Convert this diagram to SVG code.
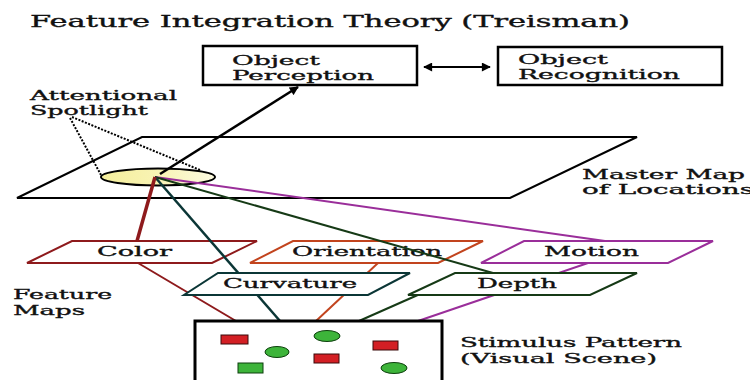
<svg xmlns="http://www.w3.org/2000/svg" width="750" height="380" viewBox="0 0 750 380">
  <defs>
    <marker id="head" viewBox="0 0 10 10" refX="9" refY="5" markerWidth="11" markerHeight="9" markerUnits="userSpaceOnUse" orient="auto-start-reverse">
      <path d="M0,0 L10,5 L0,10 z" fill="#000"/>
    </marker>
    <linearGradient id="spotFill" x1="0" y1="0" x2="1" y2="0">
      <stop offset="0" stop-color="#f5ef9c"/>
      <stop offset="0.5" stop-color="#f8f3b4"/>
      <stop offset="1" stop-color="#fcfae0"/>
    </linearGradient>
  </defs>
  <style>
    text { font-family: "DejaVu Serif", "Liberation Serif", serif; font-size: 13.5px; fill: #111; stroke: #111; stroke-width: 0.35px; }
    .title { font-size: 16px; }
    .box { fill: #fff; stroke: #000; stroke-width: 2.5; }
    .map { fill: #fff; stroke: #000; stroke-width: 2; }
    .fmap { fill: #fff; stroke-width: 2; }
    .link { fill: none; }
    .red { stroke: #8e1a1c; }
    .orange { stroke: #c2441e; }
    .purple { stroke: #9a2e9a; }
    .teal { stroke: #0b3636; }
    .green { stroke: #163a16; }
    .shape-red { fill: #d31f24; stroke: #3a0a0a; stroke-width: 1; }
    .shape-green { fill: #3db43a; stroke: #0d3f0d; stroke-width: 1; }
  </style>

  <rect width="750" height="380" fill="#fff"/>

  <!-- heading -->
  <text class="title" x="30" y="27" textLength="600" lengthAdjust="spacingAndGlyphs">Feature Integration Theory (Treisman)</text>

  <!-- master map of locations -->
  <g id="master-map">
    <polygon class="map" points="142,137 637,137 510,198 17,198"/>
    <text x="582" y="179" textLength="163" lengthAdjust="spacingAndGlyphs">Master Map</text>
    <text x="582" y="194" textLength="172" lengthAdjust="spacingAndGlyphs">of Locations</text>
  </g>

  <!-- attentional spotlight -->
  <g id="spotlight">
    <ellipse cx="158" cy="177" rx="57" ry="8.5" fill="url(#spotFill)" stroke="#000" stroke-width="2"/>
    <text x="30" y="100" textLength="147" lengthAdjust="spacingAndGlyphs">Attentional</text>
    <text x="30" y="115" textLength="118" lengthAdjust="spacingAndGlyphs">Spotlight</text>
  </g>

  <!-- upper row of feature maps -->
  <g id="map-color">
    <polygon class="fmap red" points="72,241 257,241 212,263 27,263"/>
    <text x="97" y="256" textLength="75" lengthAdjust="spacingAndGlyphs">Color</text>
  </g>
  <g id="map-orientation">
    <polygon class="fmap orange" points="293,241 483,241 438,263 250,263"/>
    <text x="292" y="256" textLength="150" lengthAdjust="spacingAndGlyphs">Orientation</text>
  </g>
  <g id="map-motion">
    <polygon class="fmap purple" points="524,241 713,241 668,263 481,263"/>
    <text x="544" y="256" textLength="95" lengthAdjust="spacingAndGlyphs">Motion</text>
  </g>

  <!-- connectors -->
  <g id="connectors">
    <!-- spotlight beam -->
    <line x1="70" y1="118" x2="101" y2="175" stroke="#000" stroke-width="2" stroke-dasharray="2,1.5"/>
    <line x1="72" y1="117" x2="200" y2="170" stroke="#000" stroke-width="2" stroke-dasharray="2,1.5"/>
    <!-- spotlight to feature maps -->
    <line class="link purple" x1="155" y1="177" x2="605" y2="241" stroke-width="2"/>
    <line class="link green" x1="155" y1="177" x2="500" y2="275" stroke-width="2"/>
    <line class="link teal" x1="155" y1="177" x2="280" y2="321" stroke-width="2.5"/>
    <line class="link red" x1="155" y1="177" x2="137" y2="241" stroke-width="3.5"/>
    <!-- feature maps to stimulus -->
    <line class="link red" x1="138" y1="263" x2="236" y2="321" stroke-width="2"/>
    <line class="link orange" x1="378" y1="263" x2="316" y2="321" stroke-width="2"/>
    <line class="link purple" x1="588" y1="263" x2="418" y2="321" stroke-width="2"/>
    <line class="link green" x1="420" y1="294" x2="359" y2="321" stroke-width="2"/>
    <!-- spotlight to object perception -->
    <line x1="160" y1="174" x2="298" y2="87" stroke="#000" stroke-width="2.5" marker-end="url(#head)"/>
    <!-- perception / recognition -->
    <line x1="424" y1="67" x2="490" y2="67" stroke="#000" stroke-width="2" marker-start="url(#head)" marker-end="url(#head)"/>
  </g>

  <!-- lower row of feature maps -->
  <g id="map-curvature">
    <polygon class="fmap teal" points="218,273 410,273 368,295 184,295"/>
    <text x="223" y="288" textLength="134" lengthAdjust="spacingAndGlyphs">Curvature</text>
  </g>
  <g id="map-depth">
    <polygon class="fmap green" points="455,273 637,273 590,295 408,295"/>
    <text x="477" y="288" textLength="80" lengthAdjust="spacingAndGlyphs">Depth</text>
  </g>

  <!-- object level -->
  <g id="object-perception">
    <rect class="box" x="203" y="46" width="214" height="39"/>
    <text x="232" y="65" textLength="88" lengthAdjust="spacingAndGlyphs">Object</text>
    <text x="232" y="80" textLength="142" lengthAdjust="spacingAndGlyphs">Perception</text>
  </g>
  <g id="object-recognition">
    <rect class="box" x="498" y="47" width="224" height="38"/>
    <text x="518" y="64" textLength="90" lengthAdjust="spacingAndGlyphs">Object</text>
    <text x="518" y="79" textLength="162" lengthAdjust="spacingAndGlyphs">Recognition</text>
  </g>

  <text x="13" y="299" textLength="99" lengthAdjust="spacingAndGlyphs">Feature</text>
  <text x="13" y="315" textLength="72" lengthAdjust="spacingAndGlyphs">Maps</text>

  <!-- stimulus pattern -->
  <g id="stimulus">
    <rect x="195" y="321" width="247" height="72" fill="#fff" stroke="#000" stroke-width="3"/>
    <rect class="shape-red" x="221" y="335" width="27" height="9"/>
    <ellipse class="shape-green" cx="327" cy="336" rx="13" ry="5.5"/>
    <rect class="shape-red" x="373" y="341" width="25" height="9"/>
    <ellipse class="shape-green" cx="277" cy="352" rx="12" ry="5.5"/>
    <rect class="shape-red" x="314" y="354" width="25" height="9"/>
    <rect class="shape-green" x="238" y="363" width="25" height="10"/>
    <ellipse class="shape-green" cx="394" cy="368" rx="13" ry="5.5"/>
    <text x="460" y="347" textLength="222" lengthAdjust="spacingAndGlyphs">Stimulus Pattern</text>
    <text x="460" y="363" textLength="197" lengthAdjust="spacingAndGlyphs">(Visual Scene)</text>
  </g>
</svg>
